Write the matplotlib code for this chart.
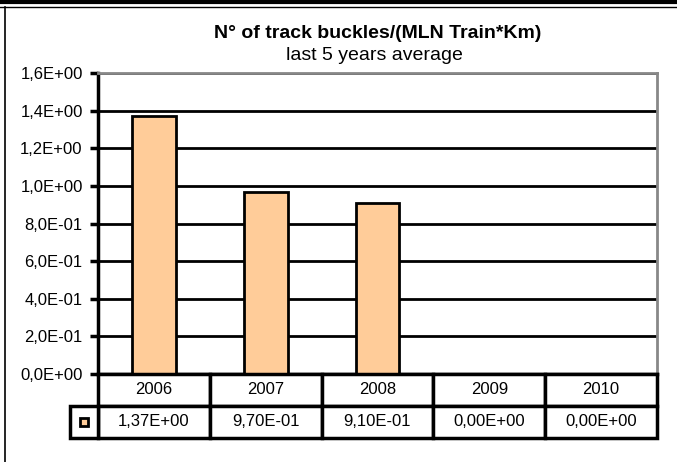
import matplotlib
matplotlib.use('Agg')
import matplotlib.pyplot as plt
import matplotlib.transforms as mtransforms
from matplotlib.lines import Line2D
from matplotlib.patches import Rectangle

years = ['2006', '2007', '2008', '2009', '2010']
values = [1.37, 0.97, 0.91, 0.0, 0.0]
value_labels = ['1,37E+00', '9,70E-01', '9,10E-01', '0,00E+00', '0,00E+00']
yticks = [0.0, 0.2, 0.4, 0.6, 0.8, 1.0, 1.2, 1.4, 1.6]
ytick_labels = ['0,0E+00', '2,0E-01', '4,0E-01', '6,0E-01', '8,0E-01',
                '1,0E+00', '1,2E+00', '1,4E+00', '1,6E+00']

bar_color = '#FFCC99'
plt.rcParams['font.family'] = ['Liberation Sans', 'DejaVu Sans']

fig = plt.figure(figsize=(6.77, 4.62), dpi=100)
ax = fig.add_axes([98 / 677, 1 - 374 / 462, 559 / 677, 301 / 462])

x = range(len(years))
ax.bar(x, values, width=0.39, color=bar_color, edgecolor='black', linewidth=2, zorder=3)
ax.set_xlim(-0.5, len(years) - 0.5)
ax.set_ylim(0, 1.6)
ax.set_yticks(yticks)
ax.set_yticklabels(ytick_labels, fontsize=12)
ax.set_xticks([])
ax.tick_params(axis='y', direction='out', length=6, width=2.5, color='black', pad=5)
ax.yaxis.grid(True, color='black', linewidth=2, zorder=0)
ax.set_axisbelow(True)

for s in ['left', 'bottom']:
    ax.spines[s].set_color('black')
    ax.spines[s].set_linewidth(2.5)
for s in ['top', 'right']:
    ax.spines[s].set_color('#888888')
    ax.spines[s].set_linewidth(2)

# data table under the plot: x in data units, y in axes units
trans = mtransforms.blended_transform_factory(ax.transData, ax.transAxes)
row_h = 32 / 301
lab_w = 0.25
for i, (yr, lab) in enumerate(zip(years, value_labels)):
    for r, txt in enumerate([yr, lab]):
        ax.add_patch(Rectangle((i - 0.5, -(r + 1) * row_h), 1, row_h, transform=trans,
                               facecolor='white', edgecolor='black', linewidth=2.5,
                               clip_on=False, zorder=4))
        ax.text(i, -(r + 0.5) * row_h, txt, transform=trans, ha='center', va='center',
                fontsize=12, clip_on=False, zorder=5)
ax.add_patch(Rectangle((-0.5 - lab_w, -2 * row_h), lab_w, row_h, transform=trans,
                       facecolor='white', edgecolor='black', linewidth=2.5,
                       clip_on=False, zorder=4))
# legend key in the row label cell
ax.plot([-0.5 - lab_w / 2], [-1.5 * row_h], marker='s', markersize=6,
        markerfacecolor=bar_color, markeredgecolor='black', markeredgewidth=2,
        transform=trans, clip_on=False, zorder=6)

fig.text(378 / 677, 1 - 33 / 462, 'N° of track buckles/(MLN Train*Km)', ha='center',
         va='center', fontsize=14, fontweight='bold')
fig.text(374 / 677, 1 - 55 / 462, 'last 5 years average', ha='center', va='center', fontsize=14)

# outer frame bits
fig.add_artist(Line2D([0, 1], [1 - 2 / 462, 1 - 2 / 462], color='black', linewidth=3,
                      transform=fig.transFigure))
fig.add_artist(Line2D([0, 1], [1 - 7 / 462, 1 - 7 / 462], color='black', linewidth=1,
                      transform=fig.transFigure))
fig.add_artist(Line2D([5 / 677, 5 / 677], [0, 1 - 7 / 462], color='black', linewidth=1.2,
                      transform=fig.transFigure))

fig.savefig('out.png', dpi=100)
